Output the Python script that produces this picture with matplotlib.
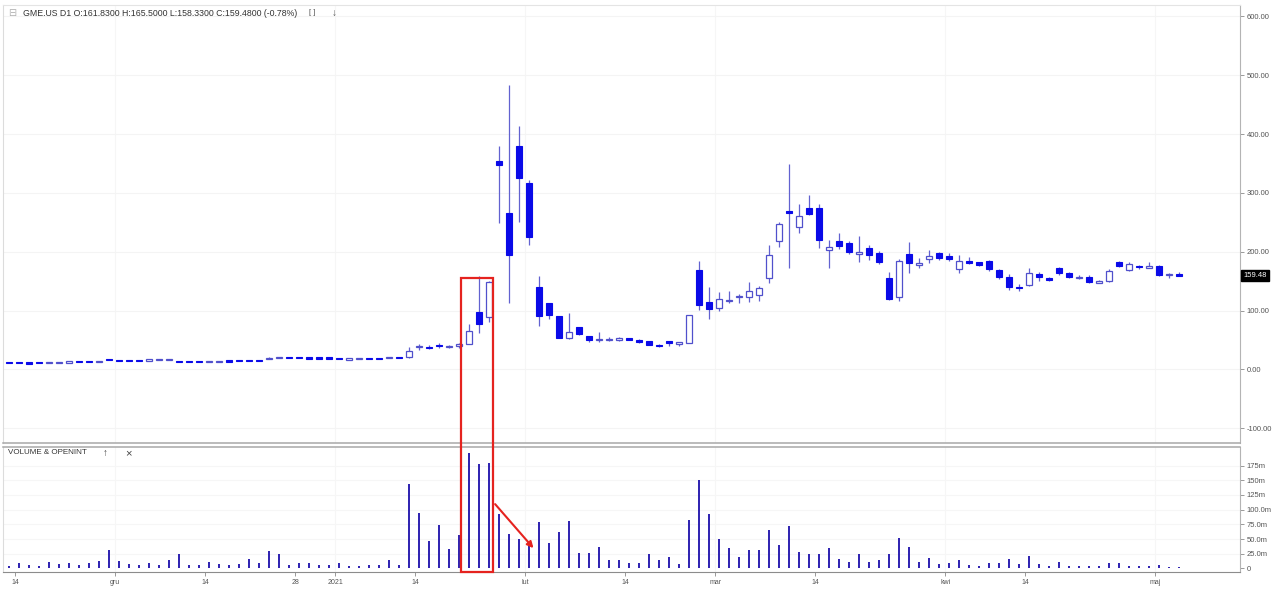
import numpy as np
import pandas as pd
import matplotlib
matplotlib.use('Agg')
import matplotlib.pyplot as plt
import matplotlib.transforms as mtransforms
from matplotlib.patches import Rectangle, FancyArrowPatch

plt.rcParams['font.family'] = ['Liberation Sans', 'DejaVu Sans']

# GME.US daily bars, 13 Nov 2020 - 5 May 2021 (NYSE sessions)
holidays = ['2020-11-26', '2020-12-25', '2021-01-01', '2021-01-18', '2021-02-15', '2021-04-02']
dates = pd.bdate_range('2020-11-13', '2021-05-05', freq='C', holidays=holidays)

opens = [11.4, 11.2, 11.1, 11.5, 11.3, 12.0, 12.3, 13.2, 13.0, 12.7,
         16.8, 15.8, 15.4, 15.2, 15.1, 16.4, 16.7, 14.0, 13.4, 13.3,
         12.8, 13.6, 14.1, 15.2, 15.8, 15.6, 17.0, 19.5, 20.3, 20.0,
         19.5, 19.3, 19.3, 19.00, 17.35, 17.34, 18.47, 18.18, 19.41, 19.96,
         20.42, 38.09, 38.49, 41.55, 37.37, 39.23, 42.59, 96.73, 88.56, 354.83,
         265.00, 379.71, 316.56, 140.76, 112.01, 91.19, 54.04, 72.41, 56.61, 50.77,
         50.01, 50.75, 52.66, 49.77, 48.49, 41.28, 46.69, 44.70, 44.70, 169.56,
         115.0, 104.5, 116.93, 122.50, 123.5, 127.0, 154.89, 217.71, 269.43, 241.64,
         275.00, 275.00, 203.16, 217.84, 214.00, 195.73, 206.00, 197.50, 156.0, 123.49,
         196.0, 177.5, 187.0, 197.0, 192.4, 170.4, 183.0, 181.7, 184.5, 168.7,
         156.2, 140.0, 143.3, 161.4, 154.6, 171.5, 163.0, 155.6, 156.2, 147.5,
         150.0, 182.7, 169.0, 175.0, 173.5, 176.5, 160.5, 161.83]
highs = [11.8, 11.4, 11.3, 11.7, 12.3, 12.6, 13.0, 13.6, 13.4, 13.4,
         17.3, 16.2, 15.8, 15.5, 16.8, 16.9, 17.2, 14.4, 13.9, 13.6,
         13.8, 14.2, 14.5, 15.5, 16.0, 16.0, 21.0, 21.5, 20.5, 20.6,
         20.0, 19.6, 19.5, 19.10, 18.08, 18.98, 19.45, 18.30, 20.65, 20.40,
         38.65, 43.06, 40.75, 45.52, 41.19, 44.75, 76.76, 159.18, 150.00, 380.00,
         483.00, 413.98, 322.00, 158.00, 113.40, 91.50, 95.00, 72.66, 57.00, 62.83,
         55.32, 55.24, 53.50, 51.19, 48.87, 43.72, 46.90, 46.23, 91.71, 184.68,
         140.0, 132.0, 133.20, 127.75, 147.87, 141.0, 210.87, 249.85, 348.50, 281.50,
         295.50, 281.00, 220.70, 231.47, 218.88, 227.00, 210.87, 201.75, 165.5, 187.50,
         217.0, 190.0, 202.5, 199.0, 197.0, 194.0, 190.5, 183.0, 185.6, 169.8,
         161.9, 144.4, 171.5, 165.9, 157.4, 174.3, 166.0, 160.0, 160.0, 151.5,
         170.0, 185.0, 182.0, 178.0, 183.0, 178.0, 163.0, 165.50]
lows = [10.8, 10.6, 10.7, 10.9, 11.2, 11.8, 12.1, 12.5, 12.6, 12.6,
        15.2, 15.0, 14.9, 14.6, 15.0, 16.0, 16.1, 13.0, 12.8, 12.6,
        12.6, 13.3, 13.6, 14.6, 15.0, 15.0, 16.8, 18.9, 19.5, 19.1,
        18.8, 18.6, 18.4, 17.15, 17.23, 17.33, 18.02, 17.08, 19.01, 19.32,
        20.03, 33.05, 34.01, 36.64, 36.06, 37.00, 42.32, 61.13, 80.20, 249.00,
        112.25, 250.00, 212.00, 74.22, 85.25, 53.33, 51.09, 58.02, 46.52, 46.55,
        48.22, 48.05, 49.04, 44.56, 40.65, 38.50, 40.40, 40.00, 44.70, 101.00,
        86.0, 99.0, 112.20, 113.12, 114.0, 116.0, 146.10, 208.51, 172.00, 232.60,
        262.27, 206.00, 172.35, 204.00, 195.65, 182.66, 186.00, 179.08, 118.50, 116.90,
        163.0, 171.5, 181.0, 186.5, 184.5, 163.0, 179.0, 175.5, 167.5, 152.8,
        134.8, 133.7, 142.2, 150.6, 150.0, 160.2, 155.0, 153.0, 146.0, 146.0,
        148.0, 174.0, 167.0, 171.0, 172.0, 158.0, 155.0, 158.33]
closes = [11.1, 11.0, 10.9, 11.2, 12.0, 12.4, 12.8, 12.7, 12.8, 13.2,
          15.8, 15.3, 15.1, 14.9, 16.5, 16.7, 16.9, 13.3, 13.1, 12.9,
          13.5, 14.0, 13.8, 14.8, 15.3, 15.4, 20.0, 20.2, 19.7, 19.3,
          19.1, 18.8, 18.8, 17.25, 17.37, 18.36, 18.08, 17.69, 19.94, 19.95,
          31.40, 39.91, 35.50, 39.36, 39.12, 43.03, 65.01, 76.79, 147.98, 347.51,
          193.60, 325.00, 225.00, 90.00, 92.41, 53.50, 63.77, 60.00, 50.31, 51.20,
          51.10, 52.40, 49.51, 45.94, 40.69, 40.59, 46.00, 44.97, 91.71, 108.73,
          101.74, 120.40, 118.18, 124.18, 132.35, 137.74, 194.50, 246.90, 265.00, 260.00,
          264.50, 220.14, 208.17, 209.81, 200.27, 200.27, 194.49, 181.75, 120.34, 183.75,
          181.0, 181.3, 192.5, 188.5, 188.0, 184.5, 181.5, 177.2, 169.8, 157.4,
          140.4, 139.3, 164.2, 156.8, 151.7, 163.0, 157.3, 157.0, 148.8, 150.0,
          167.4, 176.0, 179.0, 174.5, 174.5, 160.9, 160.73, 159.48]
# volume in millions
volumes = [4, 8.5, 5.7, 4, 10.8, 7.4, 9, 5.7, 9, 12,
           31, 12, 7.4, 5.7, 8.5, 6.2, 14.2, 24.4, 6.2, 6.2,
           10.2, 7.4, 5.1, 6.8, 15.9, 9, 29.5, 25, 5.1, 8.5,
           8.5, 5.7, 6.2, 9, 4.5, 4.5, 5.7, 6.2, 13.6, 5.7,
           144.5, 93.7, 46.9, 74.7, 33.5, 56.2, 197.2, 177.9, 178.6, 93.4,
           58.8, 50.6, 37.4, 78.2, 42.7, 62.4, 81.3, 25.7, 26.8, 36.5,
           13.6, 15.0, 8.5, 9.6, 25.0, 15.0, 20.0, 7.4, 83.1, 150.3,
           92.0, 50.0, 34.0, 20.0, 32.0, 30.6, 64.6, 39.7, 71.4, 27.8,
           25, 24.4, 34.6, 16.4, 11.3, 24.4, 10.2, 14.2, 24.4, 51,
           36.8, 10.2, 17, 7.4, 9, 14.2, 5.7, 4, 9.6, 9.6,
           15.9, 6.8, 21, 8, 4.5, 10.2, 4.5, 4, 4, 4,
           9.6, 9, 4.5, 4, 4.5, 5.7, 2.3, 1.7]

tick_dates = ['2020-11-16', '2020-12-01', '2020-12-14', '2020-12-28', '2021-01-04', '2021-01-14',
              '2021-02-01', '2021-02-16', '2021-03-01', '2021-03-15', '2021-04-01', '2021-04-14', '2021-05-03']
tick_labels = ['14', 'gru', '14', '28', '2021', '14', 'lut', '14', 'mar', '14', 'kwi', '14', 'maj']
month_starts = ['gru', '2021', 'lut', 'mar', 'kwi', 'maj']

price_ticks = [-100, 0, 100, 200, 300, 400, 500, 600]
vol_ticks = [0, 25, 50, 75, 100, 125, 150, 175]
vol_labels = ['0', '25.0m', '50.0m', '75.0m', '100.0m', '125m', '150m', '175m']

o = np.array(opens); h = np.array(highs); l = np.array(lows); c = np.array(closes)
v = np.array(volumes)
x = np.arange(len(dates))
up = c >= o

W, H = 1280, 592
fig = plt.figure(figsize=(W / 100, H / 100), dpi=100)
fig.patch.set_facecolor('white')

def fx(px):
    return px / W

def fy(py):
    return 1 - py / H

ax = fig.add_axes([fx(3), fy(443), fx(1240) - fx(3), fy(5) - fy(443)])
axv = fig.add_axes([fx(3), fy(572), fx(1240) - fx(3), fy(447) - fy(572)], sharex=ax)

ax.set_xlim(-0.63, 123.07)
ax.set_ylim(-125.2, 619.3)
axv.set_ylim(-6.0, 206.6)

tick_pos = [dates.get_loc(pd.Timestamp(d)) - 0.4 for d in tick_dates]
grid_pos = [p for p, lab in zip(tick_pos, tick_labels) if lab in month_starts]

# faint grid
for p in grid_pos:
    ax.axvline(p, color='#f6f6f6', lw=0.8, zorder=0)
    axv.axvline(p, color='#f6f6f6', lw=0.8, zorder=0)
for t in price_ticks:
    ax.axhline(t, color='#f4f4f4', lw=0.8, zorder=0)
for t in vol_ticks[1:]:
    axv.axhline(t, color='#f6f6f6', lw=0.8, zorder=0)

# candles (tiny bodies still drawn as short dashes)
wick_col = '#6262d0'
ax.vlines(x, l, h, color=wick_col, lw=0.9, zorder=2)
body_low = np.minimum(o, c)
body_h = np.abs(c - o)
min_h = 2.2
body_low = np.where(body_h < min_h, (o + c) / 2 - min_h / 2, body_low)
body_h = np.maximum(body_h, min_h)
ax.bar(x[~up], body_h[~up], bottom=body_low[~up], width=0.6,
       color='#0a0ae8', edgecolor='#0a0ae8', lw=0.8, zorder=3)
ax.bar(x[up], body_h[up], bottom=body_low[up], width=0.6,
       color='white', edgecolor='#5050cc', lw=0.9, zorder=3)

# volume
axv.vlines(x, 0, v, color='#2d20b0', lw=1.4, zorder=2)

# axes styling
for a in (ax, axv):
    a.set_facecolor('white')
    a.spines['left'].set_color('#dcdcdc')
    a.spines['right'].set_color('#b4b4b4')
    a.yaxis.tick_right()
    a.tick_params(axis='y', length=3, width=0.7, color='#999999', labelsize=5.5,
                  labelcolor='#555555', pad=2)
ax.spines['top'].set_color('#e4e4e4')
ax.spines['bottom'].set_color('#a8a8a8')
ax.spines['bottom'].set_linewidth(1.1)
axv.spines['top'].set_color('#a8a8a8')
axv.spines['top'].set_linewidth(1.1)
axv.spines['bottom'].set_color('#8c8c8c')

ax.set_yticks(price_ticks)
ax.set_yticklabels(['%.2f' % t for t in price_ticks])
axv.set_yticks(vol_ticks)
axv.set_yticklabels(vol_labels)

axv.set_xticks(tick_pos)
axv.set_xticklabels(tick_labels)
axv.tick_params(axis='x', length=3, width=0.7, color='#999999', labelsize=5,
                labelcolor='#555555', pad=2)
ax.tick_params(axis='x', bottom=False, labelbottom=False)

# last price marker
trans = mtransforms.blended_transform_factory(ax.transAxes, ax.transData)
ax.text(1.0025, c[-1], '%.2f' % c[-1], transform=trans, color='white', fontsize=5.5,
        va='center', ha='left', zorder=5,
        bbox=dict(boxstyle='square,pad=0.3', fc='black', ec='black'))

# header texts
fig.text(fx(8), fy(13), '\u229f', fontsize=7, color='#b0b0b0', va='center', ha='left')
fig.text(fx(23), fy(13), 'GME.US D1 O:%.4f H:%.4f L:%.4f C:%.4f (-0.78%%)'
         % (o[-1], h[-1], l[-1], c[-1]), fontsize=6.3, color='#333333', va='center', ha='left')
fig.text(fx(312), fy(13), '[ ]', fontsize=5.5, color='#555555', va='center', ha='center')
fig.text(fx(334), fy(13), '\u2193', fontsize=7, color='#555555', va='center', ha='center')
fig.text(fx(8), fy(453), 'VOLUME & OPENINT', fontsize=5.8, color='#333333', va='center', ha='left')
fig.text(fx(105), fy(453), '\u2191', fontsize=7, color='#444444', va='center', ha='center')
fig.text(fx(128), fy(453), '\u00d7', fontsize=8, color='#444444', va='center', ha='center')

# red highlight box around the squeeze days and arrow
fig.canvas.draw()
x0, y_top = ax.transData.transform((45.2, 155))
x1, y_bot = axv.transData.transform((48.4, -5.5))
rect = Rectangle((x0, y_bot), x1 - x0, y_top - y_bot, transform=None,
                 fill=False, ec='#e5231f', lw=1.6, zorder=10)
fig.patches.append(rect)
ax_start = axv.transData.transform((48.4, 113))
ax_end = axv.transData.transform((52.6, 31))
arrow = FancyArrowPatch(ax_start, ax_end, transform=None, arrowstyle='-|>',
                        mutation_scale=9, color='#e5231f', lw=1.5, zorder=10)
fig.patches.append(arrow)

fig.savefig('out.png', dpi=100, facecolor='white')
